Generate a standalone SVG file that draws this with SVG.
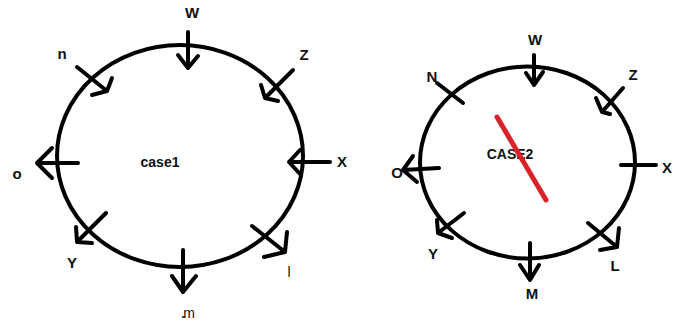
<svg xmlns="http://www.w3.org/2000/svg" width="681" height="322" viewBox="0 0 681 322">
<style>
.ring{fill:none;stroke:#000;stroke-width:4}
.ar{fill:none;stroke:#000;stroke-width:4;stroke-linecap:round;stroke-linejoin:round}
.lb{font-family:"Liberation Sans",Arial,sans-serif;font-weight:bold;font-size:15px;fill:#111;text-anchor:middle}
.lc{font-family:"Liberation Sans",Arial,sans-serif;font-weight:bold;font-size:14px;fill:#111;text-anchor:middle}
.lr{font-family:"Liberation Sans",Arial,sans-serif;font-size:14px;fill:#111;text-anchor:middle}
</style>
<rect width="681" height="322" fill="#fff"/>
<g id="case1">
  <ellipse class="ring" cx="180" cy="156" rx="123" ry="111"/>
  <text class="lc" x="160" y="167">case1</text>
</g>
<g id="connectors1">
  <g id="c1-W"><path class="ar" d="M188 32V68M178 55L188 68L198 56"/><text class="lb" x="192" y="18" font-size="17">W</text></g>
  <g id="c1-n"><path class="ar" d="M77 67L107 91M112 78L107 91L92 95"/><text class="lb" x="62" y="59">n</text></g>
  <g id="c1-Z"><path class="ar" d="M293 70L265 98M261 85L265 98L278 101"/><text class="lb" x="304" y="60">Z</text></g>
  <g id="c1-X"><path class="ar" d="M330 162H289M300 150L289 162L300 174"/><text class="lb" x="342" y="167">X</text></g>
  <g id="c1-l"><path class="ar" d="M252 226L285 252M287 232L285 252L264 257"/><text class="lr" x="289" y="277">l</text></g>
  <g id="c1-m"><path class="ar" d="M183 250V292M172 276L183 292L196 276"/><text class="lr" x="189" y="318">m</text><path d="M182 317H185" stroke="#111" stroke-width="1.5"/></g>
  <g id="c1-Y"><path class="ar" d="M106 213L77 242M76 227L77 242L92 243"/><text class="lb" x="72" y="268">Y</text></g>
  <g id="c1-o"><path class="ar" d="M78 163H37M52 148L37 163L52 178"/><text class="lb" x="17" y="179">o</text></g>
</g>
<g id="case2">
  <ellipse class="ring" cx="527.5" cy="162.5" rx="107.5" ry="96"/>
  <text class="lc" x="510" y="159">CASE2</text>
  <path d="M497 117L546 200" stroke="#d8232a" stroke-width="5" stroke-linecap="round"/>
</g>
<g id="connectors2">
  <g id="c2-W"><path class="ar" d="M534 55V85M526 73L534 85L543 72"/><text class="lb" x="535" y="45">W</text></g>
  <g id="c2-N"><path class="ar" d="M437 83L463 103"/><text class="lb" x="432" y="82">N</text></g>
  <g id="c2-Z"><path class="ar" d="M623 88L602 112M596 98L602 112L610 114"/><text class="lb" x="633" y="80">Z</text></g>
  <g id="c2-X"><path class="ar" d="M621 165H656"/><text class="lb" x="667" y="173">X</text></g>
  <g id="c2-L"><path class="ar" d="M588 223L617 247M619 228L617 247L600 250"/><text class="lb" x="615" y="271">L</text></g>
  <g id="c2-M"><path class="ar" d="M530 243V280M520 265L530 280L539 265"/><text class="lb" x="532" y="299">M</text></g>
  <g id="c2-Y"><path class="ar" d="M464 213L438 233M437 220L438 233L452 238"/><text class="lb" x="433" y="259">Y</text></g>
  <g id="c2-O"><path class="ar" d="M439 168L403 170M413 156L403 170L417 182"/><text class="lb" x="397" y="178">O</text></g>
</g>
</svg>
